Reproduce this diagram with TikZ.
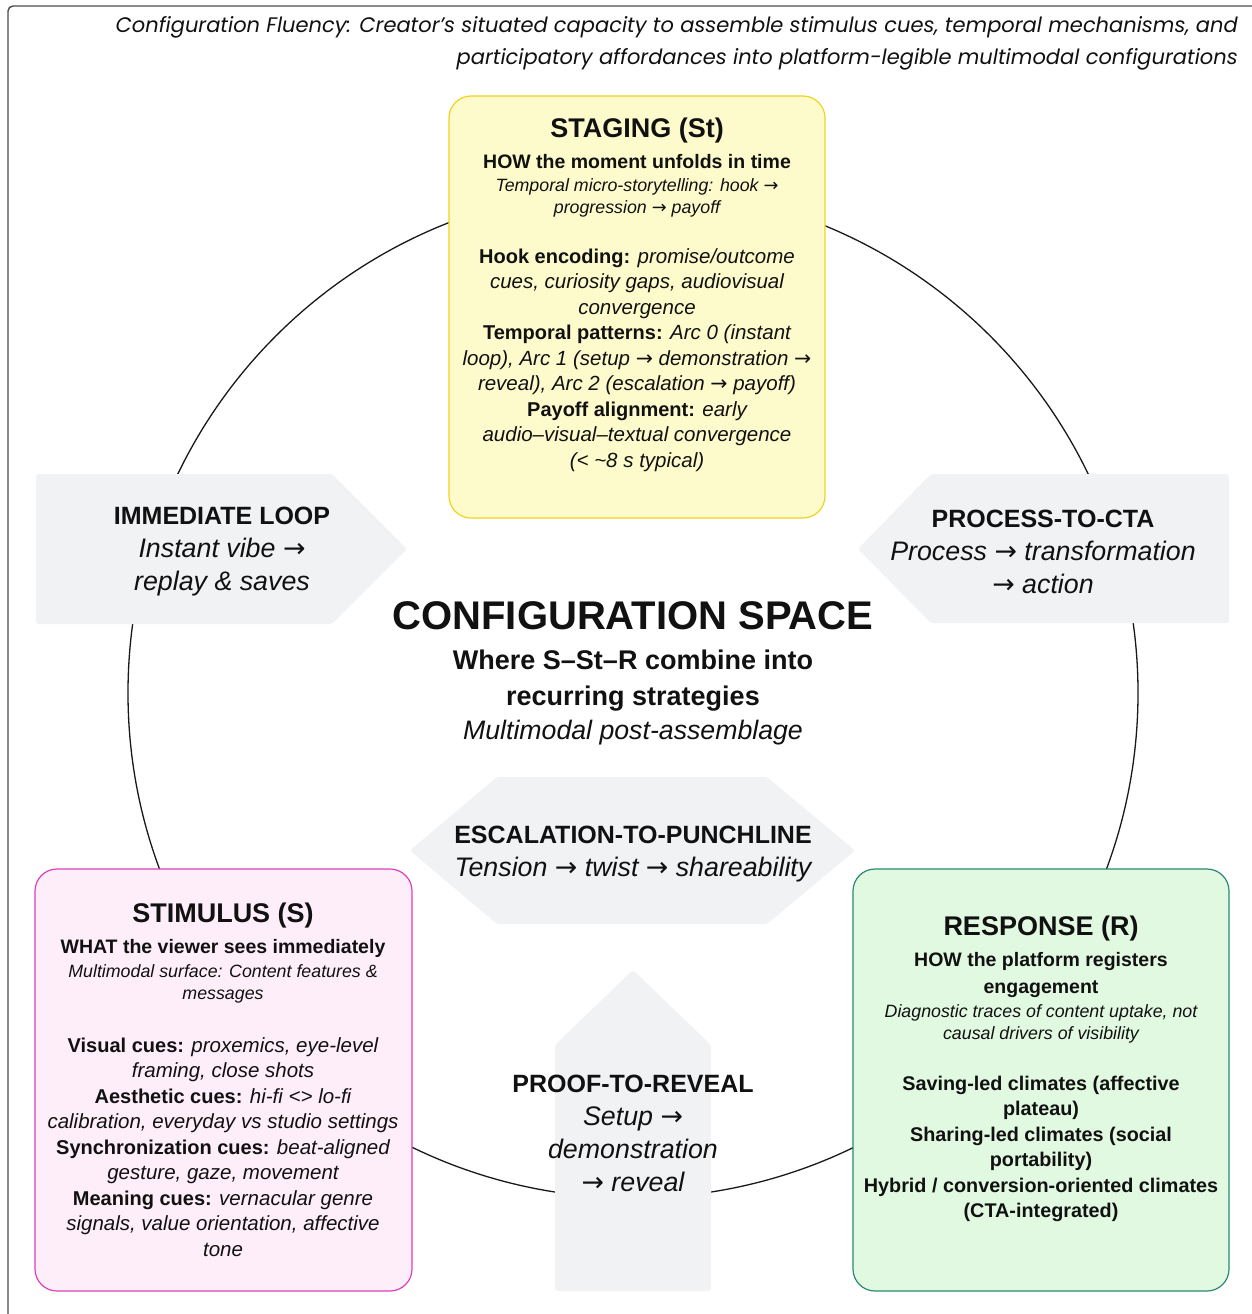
\documentclass[tikz,border=0pt]{standalone}
\usepackage{fontspec}
\setmainfont{Liberation Sans}
\newfontfamily\headfont{Poppins}
\newfontfamily\arrfont{DejaVu Sans}
\newcommand{\ra}{{\arrfont →}}
\newcommand{\ti}[1]{{\itshape\fontsize{20.5}{25.5}\selectfont #1}}
\newcommand{\bi}[1]{{\upshape\bfseries\fontsize{25}{33}\selectfont #1}}
\definecolor{shapegray}{HTML}{F1F2F4}
\definecolor{stfill}{HTML}{FDFBCB}
\definecolor{stdraw}{HTML}{F2D21C}
\definecolor{sfill}{HTML}{FDEEF9}
\definecolor{sdraw}{HTML}{DE3FBA}
\definecolor{rfill}{HTML}{E1F8E1}
\definecolor{rdraw}{HTML}{2B8A6E}
\definecolor{ink}{HTML}{111111}
\tikzset{
  txt/.style={inner sep=0pt, align=center, text=ink},
  ttl/.style={txt, font=\bfseries\fontsize{27}{30}\selectfont},
  hd/.style={txt, font=\bfseries\fontsize{19.5}{27}\selectfont},
  sub/.style={txt, font=\itshape\fontsize{17.8}{22}\selectfont},
  bdy/.style={txt, font=\fontsize{20}{25.5}\selectfont},
  arrtxt/.style={txt, font=\itshape\fontsize{26.8}{33}\selectfont},
  card/.style={rounded corners=22pt, line width=1.2pt},
  pent/.style={fill=shapegray, rounded corners=3pt},
}
\begin{document}
\begin{tikzpicture}[x=1pt,y=-1pt]
\useasboundingbox (0,0) rectangle (1252,1314);
\clip (0,0) rectangle (1252,1314);
\fill[white] (0,0) rectangle (1252,1314);
% frame
\draw[line width=1.4pt, draw=black!70, rounded corners=5pt] (8,6) rectangle (1300,1360);
% header
\node[txt, anchor=east, font=\headfont\itshape\fontsize{21}{32}\selectfont, align=right] (header) at (1238,43)
  {Configuration Fluency: Creator’s situated capacity to assemble stimulus cues, temporal mechanisms, and\\
   participatory affordances into platform-legible multimodal configurations};
% circle
\coordinate (cc) at (633,693);
\draw[line width=1.3pt, draw=black!90] (cc) circle[radius=505pt];
% gray shapes
\fill[pent] (36,474) -- (332,474) -- (407,549) -- (332,624) -- (36,624) -- cycle;
\fill[pent] (1229,474) -- (931,474) -- (858,549) -- (931,623) -- (1229,623) -- cycle;
\fill[pent] (410,850.5) -- (497,777) -- (767,777) -- (855,850.5) -- (767,924) -- (497,924) -- cycle;
\fill[pent] (633,970) -- (711,1045) -- (711,1291) -- (555,1291) -- (555,1045) -- cycle;
% cards
\draw[card, fill=stfill, draw=stdraw] (449,96) rectangle (825,518);
\draw[card, fill=sfill, draw=sdraw] (35,869) rectangle (412,1291);
\draw[card, fill=rfill, draw=rdraw] (853,869) rectangle (1229,1291);
% staging text
\node[ttl] (stt) at (637,131) {STAGING (St)};
\node[hd] (sth) at (637,162) {HOW the moment unfolds in time};
\node[sub] (sts) at (637,198) {Temporal micro-storytelling: hook \ra\\progression \ra\ payoff};
\node[bdy] (stb) at (637,360) {\textbf{Hook encoding:} \ti{promise/outcome}\\
\ti{cues, curiosity gaps, audiovisual}\\
\ti{convergence}\\
\textbf{Temporal patterns:} \ti{Arc 0 (instant}\\
\ti{loop), Arc 1 (setup \ra\ demonstration \ra}\\
\ti{reveal), Arc 2 (escalation \ra\ payoff)}\\
\textbf{Payoff alignment:} \ti{early}\\
\ti{audio–visual–textual convergence}\\
\ti{(< \textasciitilde8 s typical)}};
% stimulus text
\node[ttl] (sit) at (223,916) {STIMULUS (S)};
\node[hd] (sih) at (223,948) {WHAT the viewer sees immediately};
\node[sub] (sis) at (223,984) {Multimodal surface: Content features \&\\messages};
\node[bdy] (sib) at (223,1147) {\textbf{Visual cues:} \ti{proxemics, eye-level}\\
\ti{framing, close shots}\\
\textbf{Aesthetic cues:} \ti{hi-fi <> lo-fi}\\
\ti{calibration, everyday vs studio settings}\\
\textbf{Synchronization cues:} \ti{beat-aligned}\\
\ti{gesture, gaze, movement}\\
\textbf{Meaning cues:} \ti{vernacular genre}\\
\ti{signals, value orientation, affective}\\
\ti{tone}};
% response text
\node[ttl] (ret) at (1041,929) {RESPONSE (R)};
\node[hd] (reh) at (1041,975) {HOW the platform registers\\engagement};
\node[sub] (res) at (1041,1024) {Diagnostic traces of content uptake, not\\causal drivers of visibility};
\node[bdy, font=\bfseries\fontsize{19.8}{25.5}\selectfont] (reb) at (1041,1149) {Saving-led climates (affective\\
plateau)\\
Sharing-led climates (social\\
portability)\\
Hybrid / conversion-oriented climates\\
(CTA-integrated)};
% arrow texts
\node[arrtxt] (il) at (222,552) {\bi{IMMEDIATE LOOP}\\Instant vibe \ra\\replay \& saves};
\node[arrtxt] (pc) at (1043,552) {\bi{PROCESS-TO-CTA}\\Process \ra\ transformation\\\ra\ action};
\node[arrtxt] (ep) at (633,854) {\bi{ESCALATION-TO-PUNCHLINE}\\Tension \ra\ twist \ra\ shareability};
\node[arrtxt] (pr) at (633,1133) {\bi{PROOF-TO-REVEAL}\\Setup \ra\\demonstration\\\ra\ reveal};
% center
\node[txt, font=\bfseries\fontsize{40}{48}\selectfont] (cs) at (633,616) {CONFIGURATION SPACE};
\node[txt, font=\bfseries\fontsize{27}{36}\selectfont] (csw) at (633,681) {Where S–St–R combine into\\recurring strategies};
\node[txt, font=\itshape\fontsize{26.7}{30}\selectfont] (csm) at (633,733) {Multimodal post-assemblage};
\end{tikzpicture}
\end{document}
